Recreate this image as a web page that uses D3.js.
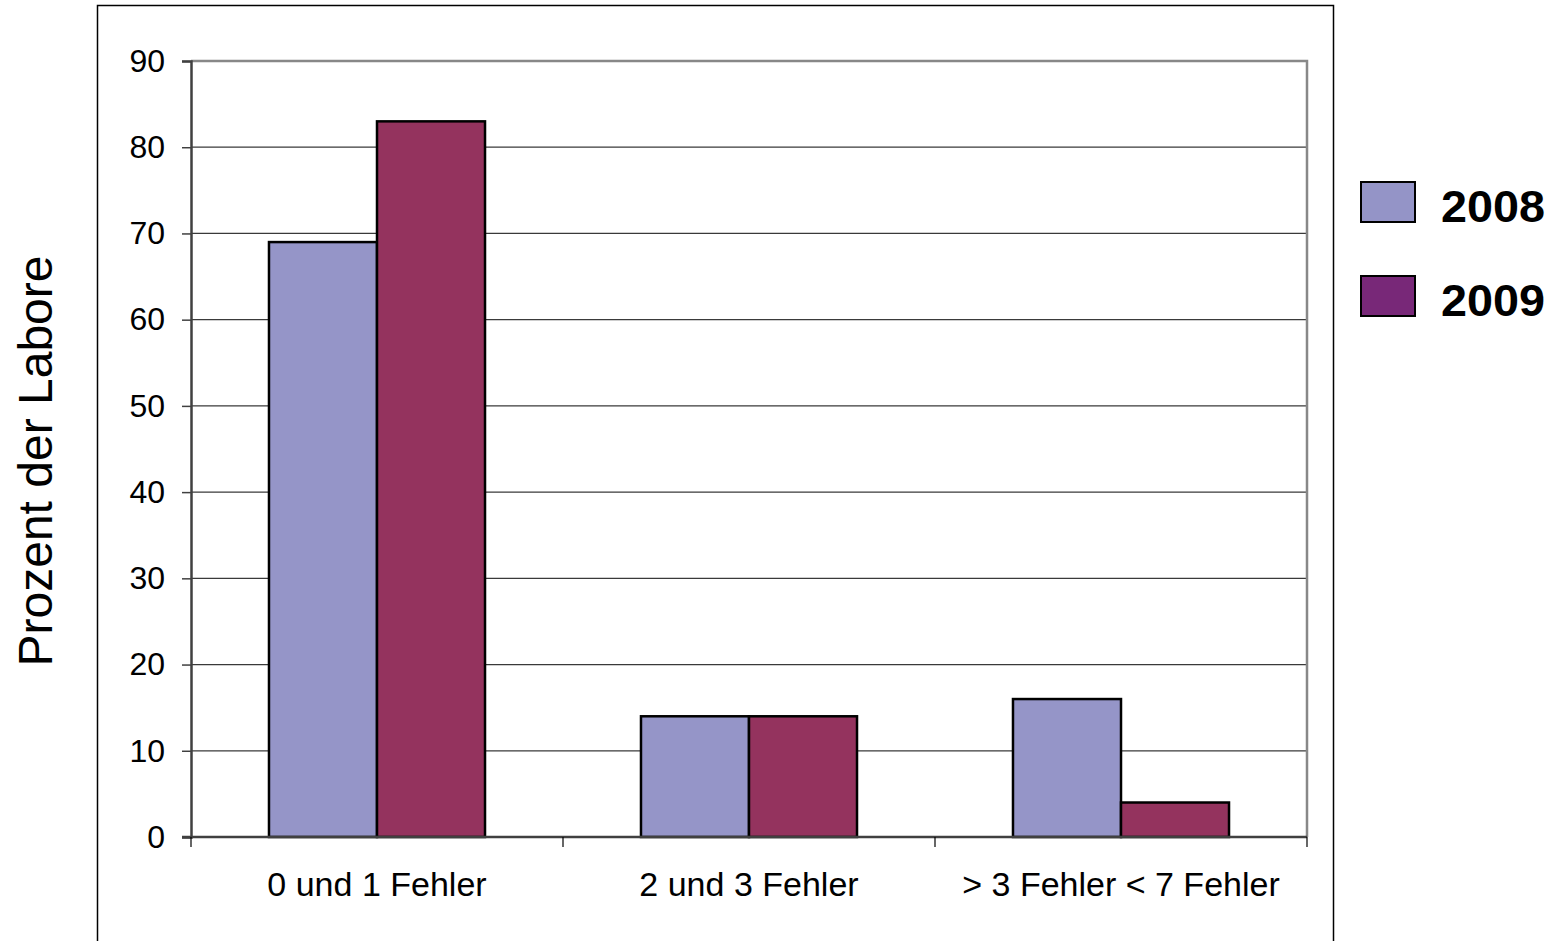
<!DOCTYPE html>
<html>
<head>
<meta charset="utf-8">
<script src="https://d3js.org/d3.v7.min.js"></script>
<style>
  body { margin: 0; background: #fff; }
  text { font-family: "Liberation Sans", Arial, sans-serif; }
</style>
</head>
<body>
<div id="chart"></div>
<script>
// data
var categories = ["0 und 1 Fehler", "2 und 3 Fehler", "> 3 Fehler < 7 Fehler"];
var years = ["2008", "2009"];
var values2008 = [69, 14, 16];
var values2009 = [83, 14, 4];
var yTicks = [0, 10, 20, 30, 40, 50, 60, 70, 80, 90];

var barColors = { "2008": "#9595c8", "2009": "#94335e" };
var legendColors = { "2008": "#9494c7", "2009": "#782878" };

var width = 1559, height = 941;
var svg = d3.select("#chart").append("svg")
  .attr("width", width).attr("height", height);

// outer frame (cut at the bottom like the original)
svg.append("rect")
  .attr("x", 97.5).attr("y", 5.5)
  .attr("width", 1236).attr("height", 950)
  .attr("fill", "none").attr("stroke", "#000").attr("stroke-width", 1.5);

var plotL = 191, plotR = 1307, plotT = 61, plotB = 837;

var x = d3.scaleBand().domain(categories).range([plotL, plotR]).paddingInner(0).paddingOuter(0);
var x1 = d3.scaleBand().domain(years).range([0, x.bandwidth()]).paddingInner(0).paddingOuter(0.722);
var y = d3.scaleLinear().domain([0, 90]).range([plotB, plotT]);

// gridlines
svg.append("g").selectAll("line")
  .data(yTicks.filter(function (d) { return d > 0 && d < 90; }))
  .enter().append("line")
    .attr("x1", plotL).attr("x2", plotR)
    .attr("y1", function (d) { return y(d); })
    .attr("y2", function (d) { return y(d); })
    .attr("stroke", "#3a3a3a").attr("stroke-width", 1.3);

// plot border top + right
svg.append("path")
  .attr("d", "M" + plotL + "," + y(90) + "H" + plotR + "V" + plotB)
  .attr("fill", "none").attr("stroke", "#888").attr("stroke-width", 2.5);

// bars
var rows = categories.map(function (c, i) {
  return { cat: c, vals: [{ year: "2008", v: values2008[i] }, { year: "2009", v: values2009[i] }] };
});
var groups = svg.append("g").selectAll("g").data(rows).enter().append("g")
  .attr("transform", function (d) { return "translate(" + x(d.cat) + ",0)"; });
groups.selectAll("rect").data(function (d) { return d.vals; }).enter().append("rect")
  .attr("x", function (d) { return x1(d.year); })
  .attr("width", x1.bandwidth())
  .attr("y", function (d) { return y(d.v); })
  .attr("height", function (d) { return y(0) - y(d.v); })
  .attr("fill", function (d) { return barColors[d.year]; })
  .attr("stroke", "#000").attr("stroke-width", 2.5);

// y axis
var yAxis = svg.append("g").attr("transform", "translate(" + plotL + ",0)")
  .call(d3.axisLeft(y).tickValues(yTicks).tickSize(9).tickPadding(17));
yAxis.select(".domain").attr("stroke", "#404040").attr("stroke-width", 2.5);
yAxis.selectAll(".tick line").attr("stroke", "#404040").attr("stroke-width", 1.5);
yAxis.selectAll(".tick text").attr("font-size", 32).attr("fill", "#000")
  .attr("font-family", "Liberation Sans, Arial, sans-serif");

// x axis
var xAxis = svg.append("g").attr("transform", "translate(0," + plotB + ")");
xAxis.append("line").attr("x1", plotL - 9).attr("x2", plotR)
  .attr("stroke", "#404040").attr("stroke-width", 2.5);
xAxis.selectAll("line.tk").data(d3.range(categories.length + 1)).enter().append("line")
  .attr("class", "tk")
  .attr("x1", function (i) { return plotL + i * x.bandwidth(); })
  .attr("x2", function (i) { return plotL + i * x.bandwidth(); })
  .attr("y1", 0).attr("y2", 10)
  .attr("stroke", "#000").attr("stroke-width", 1.2);
xAxis.selectAll("text").data(categories).enter().append("text")
  .attr("x", function (d) { return x(d) + x.bandwidth() / 2; })
  .attr("y", 59)
  .attr("text-anchor", "middle")
  .attr("font-size", 34)
  .text(function (d) { return d; });

// y title
svg.append("text")
  .attr("transform", "translate(52,461) rotate(-90)")
  .attr("text-anchor", "middle")
  .attr("font-size", 48)
  .text("Prozent der Labore");

// legend
var legend = svg.append("g").selectAll("g").data(years).enter().append("g")
  .attr("transform", function (d, i) { return "translate(1361," + (182 + i * 94) + ")"; });
legend.append("rect")
  .attr("width", 54).attr("height", 40)
  .attr("fill", function (d) { return legendColors[d]; })
  .attr("stroke", "#000").attr("stroke-width", 2);
legend.append("text")
  .attr("x", 80).attr("y", 40)
  .attr("font-size", 44).attr("font-weight", "bold")
  .attr("textLength", 104).attr("lengthAdjust", "spacingAndGlyphs")
  .text(function (d) { return d; });
</script>
</body>
</html>
